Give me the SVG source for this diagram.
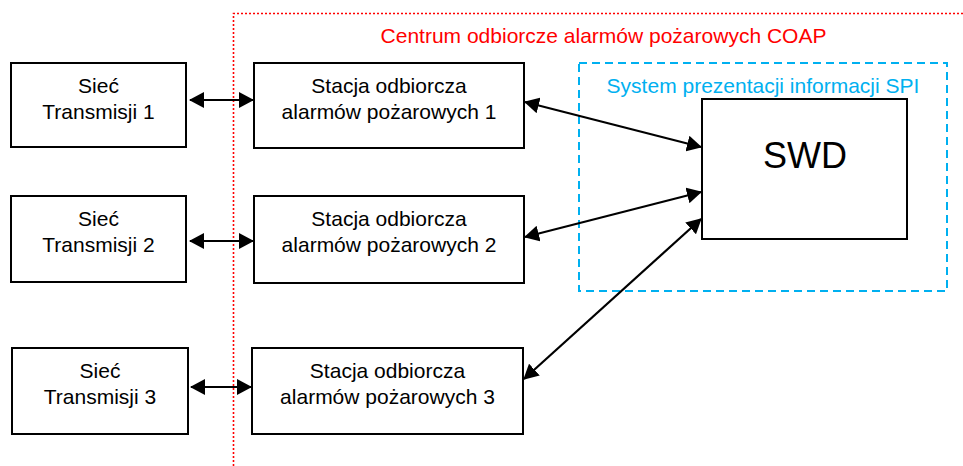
<svg xmlns="http://www.w3.org/2000/svg" width="963" height="466" viewBox="0 0 963 466">
<style>
.box{fill:#fff;stroke:#000;stroke-width:2}
.t{font-family:"Liberation Sans",Arial,sans-serif;font-size:21px;fill:#000;text-anchor:middle}
.conn{stroke:#000;stroke-width:2.2;fill:none;marker-start:url(#ah);marker-end:url(#ah)}
</style>
<defs>
<marker id="ah" markerUnits="userSpaceOnUse" viewBox="0 0 15 16" refX="14" refY="8" markerWidth="15" markerHeight="16" orient="auto-start-reverse">
<path d="M0,0 L15,8 L0,16 z" fill="#000"/>
</marker>
</defs>
<rect width="963" height="466" fill="#fff"/>
<g id="coap">
<path d="M233.5,466 V13.5 H963" fill="none" stroke="#FF0000" stroke-width="1.6" stroke-dasharray="2,2"/>
<text x="603.5" y="43" class="t" style="fill:#FF0000">Centrum odbiorcze alarmów pożarowych COAP</text>
</g>
<g id="spi">
<rect x="579" y="63" width="368" height="228" fill="none" stroke="#00B0F0" stroke-width="2" stroke-dasharray="8,5"/>
<text x="763" y="93" class="t" style="fill:#00B0F0">System prezentacji informacji SPI</text>
</g>
<g id="siec1">
<rect class="box" x="11" y="63" width="175" height="84"/>
<text class="t" x="98.5" y="93">Sieć</text>
<text class="t" x="98.5" y="119">Transmisji 1</text>
</g>
<g id="siec2">
<rect class="box" x="11" y="196" width="175" height="86"/>
<text class="t" x="98.5" y="226">Sieć</text>
<text class="t" x="98.5" y="252">Transmisji 2</text>
</g>
<g id="siec3">
<rect class="box" x="12" y="348" width="176" height="86"/>
<text class="t" x="100" y="378">Sieć</text>
<text class="t" x="100" y="404">Transmisji 3</text>
</g>
<g id="stacja1">
<rect class="box" x="254" y="63" width="270" height="85"/>
<text class="t" x="389" y="93">Stacja odbiorcza</text>
<text class="t" x="389" y="119">alarmów pożarowych 1</text>
</g>
<g id="stacja2">
<rect class="box" x="254" y="196" width="270" height="87"/>
<text class="t" x="389" y="226">Stacja odbiorcza</text>
<text class="t" x="389" y="252">alarmów pożarowych 2</text>
</g>
<g id="stacja3">
<rect class="box" x="252" y="348" width="271" height="86"/>
<text class="t" x="387.5" y="378">Stacja odbiorcza</text>
<text class="t" x="387.5" y="404">alarmów pożarowych 3</text>
</g>
<g id="swd">
<rect class="box" x="702" y="99" width="205" height="140"/>
<text x="805" y="168" style="font-family:'Liberation Sans',Arial,sans-serif;font-size:36px;text-anchor:middle">SWD</text>
</g>
<g id="connectors">
<line class="conn" x1="190" y1="100" x2="253" y2="100"/>
<line class="conn" x1="190" y1="241" x2="253" y2="241"/>
<line class="conn" x1="191" y1="387" x2="251" y2="387"/>
<line class="conn" x1="525" y1="102" x2="701" y2="147"/>
<line class="conn" x1="525" y1="237" x2="701" y2="192"/>
<line class="conn" x1="524" y1="379" x2="701" y2="219"/>
</g>
</svg>
